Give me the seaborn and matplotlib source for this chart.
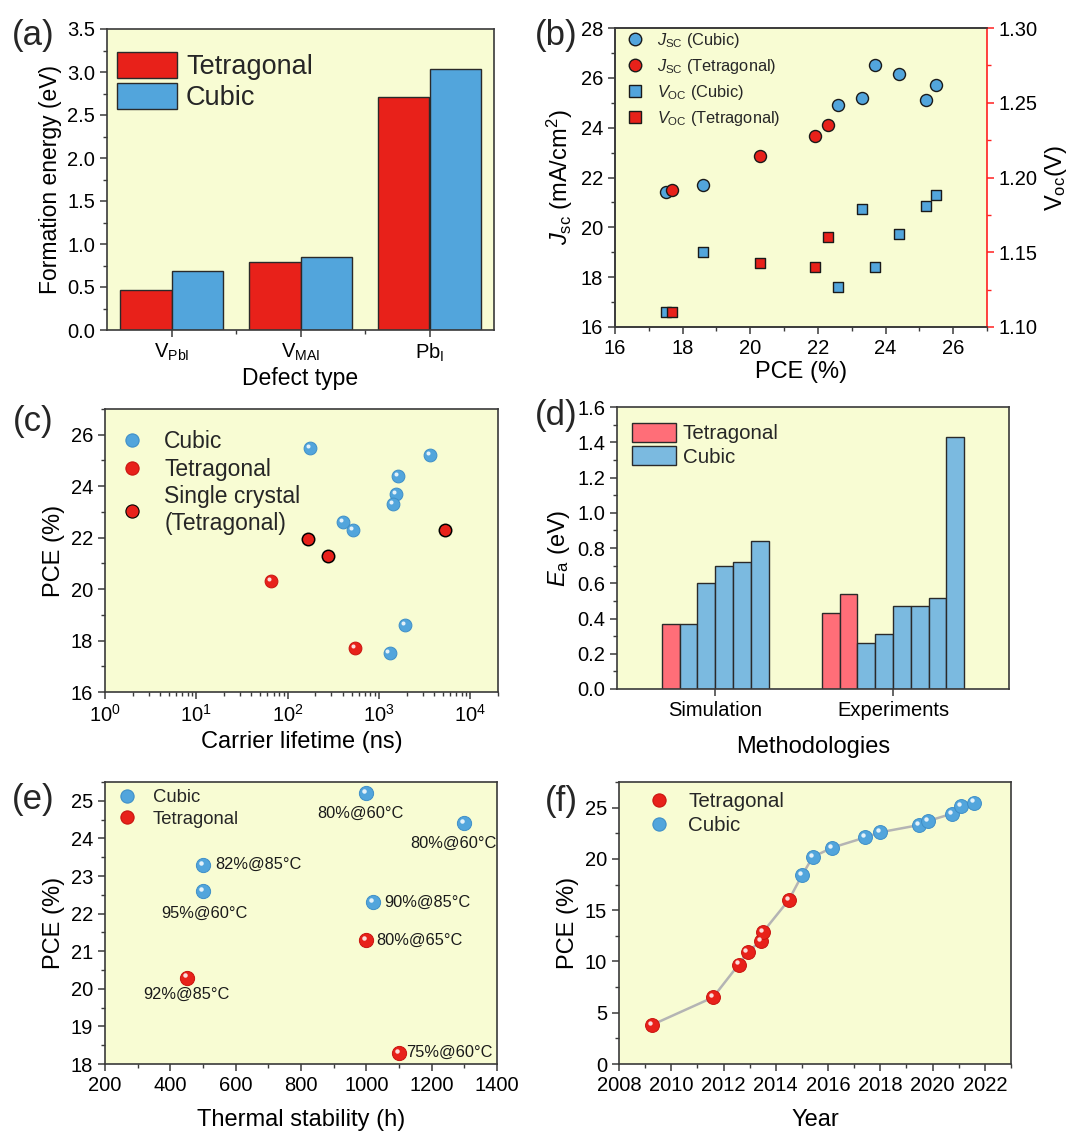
import numpy as np
import pandas as pd
import matplotlib
matplotlib.use("Agg")
import matplotlib.pyplot as plt
import matplotlib.transforms as mtransforms
from matplotlib.lines import Line2D
from matplotlib.patches import Patch
from matplotlib.ticker import MultipleLocator, LogLocator, NullFormatter
import seaborn as sns

# ---- (a) defect formation energy ----
defect_types = [r'V$_{\rm PbI}$', r'V$_{\rm MAI}$', r'Pb$_{\rm I}$']
form_tetra = [0.46, 0.79, 2.71]
form_cubic = [0.69, 0.85, 3.03]

# ---- (b) Jsc / Voc vs PCE ----
pce_jsc_cubic = [17.5, 18.6, 22.6, 23.3, 23.7, 24.4, 25.2, 25.5]
jsc_cubic = [21.4, 21.7, 24.9, 25.2, 26.5, 26.15, 25.1, 25.7]
pce_jsc_tetra = [17.7, 20.3, 21.9, 22.3]
jsc_tetra = [21.5, 22.85, 23.65, 24.1]
pce_voc_cubic = [17.5, 18.6, 22.6, 23.3, 23.7, 24.4, 25.2, 25.5]
voc_cubic = [1.110, 1.150, 1.127, 1.179, 1.140, 1.162, 1.181, 1.188]
pce_voc_tetra = [17.7, 20.3, 21.9, 22.3]
voc_tetra = [1.110, 1.143, 1.140, 1.160]

# ---- (c) PCE vs carrier lifetime ----
life_cubic = [176, 3650, 1600, 1545, 1420, 400, 520, 1920, 1300]
pce_life_cubic = [25.5, 25.2, 24.4, 23.7, 23.3, 22.6, 22.3, 18.6, 17.5]
life_tetra = [65, 545]
pce_life_tetra = [20.3, 17.7]
life_single = [165, 273, 5300]
pce_life_single = [21.95, 21.3, 22.3]

# ---- (d) activation energy ----
methods = ['Simulation', 'Experiments']
ea_sim_tetra = [0.37]
ea_sim_cubic = [0.37, 0.60, 0.70, 0.72, 0.84]
ea_exp_tetra = [0.43, 0.54]
ea_exp_cubic = [0.26, 0.31, 0.47, 0.47, 0.515, 1.43]

# ---- (e) PCE vs thermal stability ----
stab_cubic = [1000, 1300, 500, 500, 1020]
pce_stab_cubic = [25.2, 24.4, 23.3, 22.6, 22.3]
notes_cubic = ['80%@60°C', '80%@60°C', '82%@85°C', '95%@60°C', '90%@85°C']
stab_tetra = [450, 1000, 1100]
pce_stab_tetra = [20.3, 21.3, 18.3]
notes_tetra = ['92%@85°C', '80%@65°C', '75%@60°C']

# ---- (f) PCE vs year ----
year_tetra = [2009.25, 2011.6, 2012.58, 2012.92, 2013.42, 2013.52, 2014.5]
pce_year_tetra = [3.8, 6.5, 9.7, 10.9, 12.0, 12.9, 16.0]
year_cubic = [2015.0, 2015.42, 2016.16, 2017.43, 2018.0, 2019.48, 2019.83,
              2020.73, 2021.08, 2021.58]
pce_year_cubic = [18.4, 20.2, 21.1, 22.1, 22.6, 23.3, 23.7, 24.4, 25.2, 25.5]

RED = '#e8211a'
BLUE = '#52a5dc'
PINK = '#ff6e78'
LBLUE = '#7bbae0'
BG = '#f8fcd3'
SPINE = '#3a3a3a'

sns.set_theme(style='ticks')
plt.rcParams['font.family'] = ['Liberation Sans', 'DejaVu Sans']
plt.rcParams.update({
    'mathtext.fontset': 'custom',
    'mathtext.rm': 'Liberation Sans',
    'mathtext.it': 'Liberation Sans:italic',
    'mathtext.bf': 'Liberation Sans:bold',
    'axes.facecolor': BG,
    'axes.edgecolor': SPINE,
    'axes.linewidth': 1.2,
    'xtick.direction': 'out',
    'ytick.direction': 'out',
    'xtick.major.size': 5,
    'ytick.major.size': 5,
    'xtick.minor.size': 3,
    'ytick.minor.size': 3,
    'xtick.major.width': 1.1,
    'ytick.major.width': 1.1,
    'xtick.minor.width': 1.0,
    'ytick.minor.width': 1.0,
    'xtick.color': SPINE,
    'ytick.color': SPINE,
    'xtick.labelcolor': 'black',
    'ytick.labelcolor': 'black',
    'xtick.labelsize': 14.5,
    'ytick.labelsize': 14.5,
    'axes.labelsize': 16.5,
    'axes.labelcolor': 'black',
})

W, H = 1069, 1131
fig = plt.figure(figsize=(W / 100, H / 100), dpi=100)


def px_axes(x0, y0, x1, y1):
    return fig.add_axes([x0 / W, 1 - y1 / H, (x1 - x0) / W, (y1 - y0) / H])


def spheres(ax, x, y, color, edge, s=70):
    sns.scatterplot(x=x, y=y, ax=ax, color=color, s=s, edgecolor=edge,
                    linewidth=0.7, zorder=3, legend=False)
    shine = mtransforms.offset_copy(ax.transData, fig=fig, x=-1.5, y=1.5, units='points')
    ax.scatter(x, y, s=s * 0.1, color='white', alpha=0.85, linewidths=0,
               transform=shine, zorder=4)


def dot(color, edge, ms=9.5):
    return Line2D([], [], ls='none', marker='o', ms=ms, mfc=color, mec=edge, mew=0.8)


# ================= (a) =================
ax = px_axes(107, 29, 494, 330)
df_a = pd.DataFrame({
    'defect': defect_types * 2,
    'phase': ['Tetragonal'] * 3 + ['Cubic'] * 3,
    'energy': form_tetra + form_cubic,
})
sns.barplot(data=df_a, x='defect', y='energy', hue='phase', ax=ax,
            palette={'Tetragonal': RED, 'Cubic': BLUE}, edgecolor='#2a2a2a',
            linewidth=1.0, saturation=1, legend=False)
ax.set_ylim(0, 3.5)
ax.set_xlim(-0.5, 2.5)
ax.yaxis.set_major_locator(MultipleLocator(0.5))
ax.yaxis.set_minor_locator(MultipleLocator(0.25))
ax.set_xticks([0.5, 1.5], minor=True)
ax.set_xlabel('Defect type', labelpad=2)
ax.set_ylabel('Formation energy (eV)', labelpad=4)
ax.legend(handles=[Patch(fc=RED, ec='#2a2a2a', label='Tetragonal'),
                   Patch(fc=BLUE, ec='#2a2a2a', label='Cubic')],
          loc='upper left', bbox_to_anchor=(0.026, 0.925), borderaxespad=0,
          borderpad=0, frameon=False, fontsize=19.5, handlelength=2.2,
          handleheight=1.1, handletextpad=0.35, labelspacing=0.12)

# ================= (b) =================
ax = px_axes(615, 28, 987, 327)
ax2 = ax.twinx()
sns.scatterplot(x=pce_jsc_cubic, y=jsc_cubic, ax=ax, color=BLUE, s=75,
                edgecolor='#1a1a1a', linewidth=1.0, zorder=3, legend=False)
sns.scatterplot(x=pce_jsc_tetra, y=jsc_tetra, ax=ax, color=RED, s=75,
                edgecolor='#1a1a1a', linewidth=1.0, zorder=3, legend=False)
sns.scatterplot(x=pce_voc_cubic, y=voc_cubic, ax=ax2, color=BLUE, s=62, marker='s',
                edgecolor='#1a1a1a', linewidth=1.0, zorder=3, legend=False)
sns.scatterplot(x=pce_voc_tetra, y=voc_tetra, ax=ax2, color=RED, s=62, marker='s',
                edgecolor='#1a1a1a', linewidth=1.0, zorder=3, legend=False)
ax.set_xlim(16, 27)
ax.set_ylim(16, 28)
ax2.set_ylim(1.10, 1.30)
ax.xaxis.set_major_locator(MultipleLocator(2))
ax.xaxis.set_minor_locator(MultipleLocator(1))
ax.yaxis.set_major_locator(MultipleLocator(2))
ax.yaxis.set_minor_locator(MultipleLocator(1))
ax2.yaxis.set_major_locator(MultipleLocator(0.05))
ax2.yaxis.set_minor_locator(MultipleLocator(0.025))
ax2.yaxis.set_major_formatter(matplotlib.ticker.FormatStrFormatter('%.2f'))
ax2.spines['right'].set_color('#ff2020')
ax2.tick_params(axis='y', which='both', colors='#ff2020', labelcolor='black')
ax.spines['right'].set_visible(False)
ax.set_xlabel('PCE (%)', fontsize=17, labelpad=2)
ax.set_ylabel(r'$J_{\rm sc}$ (mA/cm$^2$)', fontsize=17, labelpad=4)
ax2.set_ylabel(r'V$_{\rm oc}$(V)', fontsize=17, labelpad=4)
hb = [
    Line2D([], [], ls='none', marker='o', ms=9, mfc=BLUE, mec='#1a1a1a', mew=1,
           label=r'$J_{\rm SC}$ (Cubic)'),
    Line2D([], [], ls='none', marker='o', ms=9, mfc=RED, mec='#1a1a1a', mew=1,
           label=r'$J_{\rm SC}$ (Tetragonal)'),
    Line2D([], [], ls='none', marker='s', ms=8, mfc=BLUE, mec='#1a1a1a', mew=1,
           label=r'$V_{\rm OC}$ (Cubic)'),
    Line2D([], [], ls='none', marker='s', ms=8, mfc=RED, mec='#1a1a1a', mew=1,
           label=r'$V_{\rm OC}$ (Tetragonal)'),
]
ax2.legend(handles=hb, loc='upper left', bbox_to_anchor=(0.033, 0.99),
           borderaxespad=0, borderpad=0, frameon=False, fontsize=11.8,
           handlelength=1.0, handletextpad=0.8, labelspacing=0.42)

# ================= (c) =================
ax = px_axes(105, 409, 498, 692)
spheres(ax, life_cubic, pce_life_cubic, BLUE, '#3f8fc8', s=85)
spheres(ax, life_tetra, pce_life_tetra, RED, '#c81410', s=85)
sns.scatterplot(x=life_single, y=pce_life_single, ax=ax, color=RED, s=80,
                edgecolor='black', linewidth=1.1, zorder=3, legend=False)
ax.set_xscale('log')
ax.set_xlim(1, 2e4)
ax.set_ylim(16, 27)
ax.xaxis.set_major_locator(LogLocator(base=10, numticks=10))
ax.xaxis.set_minor_locator(LogLocator(base=10, subs=np.arange(2, 10), numticks=20))
ax.xaxis.set_minor_formatter(NullFormatter())
ax.yaxis.set_major_locator(MultipleLocator(2))
ax.yaxis.set_minor_locator(MultipleLocator(1))
ax.set_xlabel('Carrier lifetime (ns)', fontsize=17, labelpad=4)
ax.set_ylabel('PCE (%)', fontsize=17, labelpad=4)
ax.legend(handles=[dot(BLUE, '#3f8fc8'), dot(RED, '#c81410'), dot(RED, 'black')],
          labels=['Cubic', 'Tetragonal', 'Single crystal\n(Tetragonal)'],
          loc='upper left', bbox_to_anchor=(0.04, 0.925), borderaxespad=0,
          borderpad=0, frameon=False, fontsize=16.5, handlelength=1.0,
          handletextpad=0.9, labelspacing=0.2)

# ================= (d) =================
ax = px_axes(617, 407, 1009, 689)
gap = 3
rows = []
start = 0
centers = []
for m, tet, cub in [(methods[0], ea_sim_tetra, ea_sim_cubic),
                    (methods[1], ea_exp_tetra, ea_exp_cubic)]:
    vals = tet + cub
    slots = start + np.arange(len(vals))
    centers.append(slots.mean())
    for sl, v, ph in zip(slots, vals, ['Tetragonal'] * len(tet) + ['Cubic'] * len(cub)):
        rows.append({'slot': sl, 'Ea': v, 'phase': ph})
    start += len(vals) + gap
df_d = pd.DataFrame(rows)
sns.barplot(data=df_d, x='slot', y='Ea', hue='phase', native_scale=True, dodge=False,
            width=1.0, palette={'Tetragonal': PINK, 'Cubic': LBLUE}, saturation=1,
            edgecolor='#2a2a2a', linewidth=1.0, ax=ax, legend=False)
ax.set_xlim(-3.03, df_d['slot'].max() + 0.5 + 2.53)
ax.set_ylim(0, 1.6)
ax.set_xticks(centers)
ax.set_xticklabels(methods)
ax.yaxis.set_major_locator(MultipleLocator(0.2))
ax.yaxis.set_minor_locator(MultipleLocator(0.1))
ax.set_xlabel('Methodologies', fontsize=17, labelpad=12)
ax.set_ylabel(r'$E_{\rm a}$ (eV)', fontsize=17, labelpad=4)
ax.legend(handles=[Patch(fc=PINK, ec='#2a2a2a', label='Tetragonal'),
                   Patch(fc=LBLUE, ec='#2a2a2a', label='Cubic')],
          loc='upper left', bbox_to_anchor=(0.0375, 0.945), borderaxespad=0,
          borderpad=0, frameon=False, fontsize=14.8, handlelength=2.15,
          handleheight=1.05, handletextpad=0.34, labelspacing=0.15)

# ================= (e) =================
ax = px_axes(105, 782, 497, 1064)
spheres(ax, stab_cubic, pce_stab_cubic, BLUE, '#3f8fc8', s=105)
spheres(ax, stab_tetra, pce_stab_tetra, RED, '#c81410', s=105)
note_offsets_cubic = [(-4, -14.5, 'center'), (-8, -14.5, 'center'), (8.5, 0, 'left'),
                      (1, -16, 'center'), (8, 0, 'left')]
note_offsets_tetra = [(0, -12, 'center'), (7, 0, 'left'), (5, 0, 'left')]
for xs, ys, notes, offs in [(stab_cubic, pce_stab_cubic, notes_cubic, note_offsets_cubic),
                            (stab_tetra, pce_stab_tetra, notes_tetra, note_offsets_tetra)]:
    for x, y, t, (dx, dy, ha) in zip(xs, ys, notes, offs):
        ax.annotate(t, (x, y), xytext=(dx, dy), textcoords='offset points',
                    ha=ha, va='center', fontsize=11.8, color='#1a1a1a')
ax.set_xlim(200, 1400)
ax.set_ylim(18, 25.5)
ax.xaxis.set_major_locator(MultipleLocator(200))
ax.xaxis.set_minor_locator(MultipleLocator(100))
ax.yaxis.set_major_locator(MultipleLocator(1))
ax.yaxis.set_minor_locator(MultipleLocator(0.5))
ax.set_xlabel('Thermal stability (h)', fontsize=17, labelpad=10)
ax.set_ylabel('PCE (%)', fontsize=17, labelpad=4)
ax.legend(handles=[dot(BLUE, '#3f8fc8'), dot(RED, '#c81410')],
          labels=['Cubic', 'Tetragonal'],
          loc='upper left', bbox_to_anchor=(0.032, 0.975), borderaxespad=0,
          borderpad=0, frameon=False, fontsize=13.3, handlelength=1.0,
          handletextpad=0.9, labelspacing=0.25)

# ================= (f) =================
ax = px_axes(619, 782, 1011, 1064)
df_f = pd.DataFrame({'year': year_tetra + year_cubic,
                     'pce': pce_year_tetra + pce_year_cubic}).sort_values('year')
sns.lineplot(data=df_f, x='year', y='pce', ax=ax, color='#b4b4b4', lw=1.8,
             sort=True, zorder=2)
spheres(ax, year_tetra, pce_year_tetra, RED, '#c81410', s=100)
spheres(ax, year_cubic, pce_year_cubic, BLUE, '#3f8fc8', s=100)
ax.set_xlim(2008, 2023)
ax.set_ylim(0, 27.5)
ax.xaxis.set_major_locator(MultipleLocator(2))
ax.xaxis.set_minor_locator(MultipleLocator(1))
ax.yaxis.set_major_locator(MultipleLocator(5))
ax.yaxis.set_minor_locator(MultipleLocator(2.5))
ax.set_xlabel('Year', fontsize=17, labelpad=10)
ax.set_ylabel('PCE (%)', fontsize=17, labelpad=4)
ax.legend(handles=[dot(RED, '#c81410'), dot(BLUE, '#3f8fc8')],
          labels=['Tetragonal', 'Cubic'],
          loc='upper left', bbox_to_anchor=(0.076, 0.965), borderaxespad=0,
          borderpad=0, frameon=False, fontsize=14.8, handlelength=1.0,
          handletextpad=0.92, labelspacing=0.25)

# panel letters
for lab, x, y in [('(a)', 12, 35), ('(b)', 535, 35), ('(c)', 13, 422),
                  ('(d)', 535, 416), ('(e)', 12, 800), ('(f)', 545, 802)]:
    fig.text(x / W, 1 - y / H, lab, fontsize=25, ha='left', va='center')

fig.savefig('out.png', dpi=100, facecolor='white')
